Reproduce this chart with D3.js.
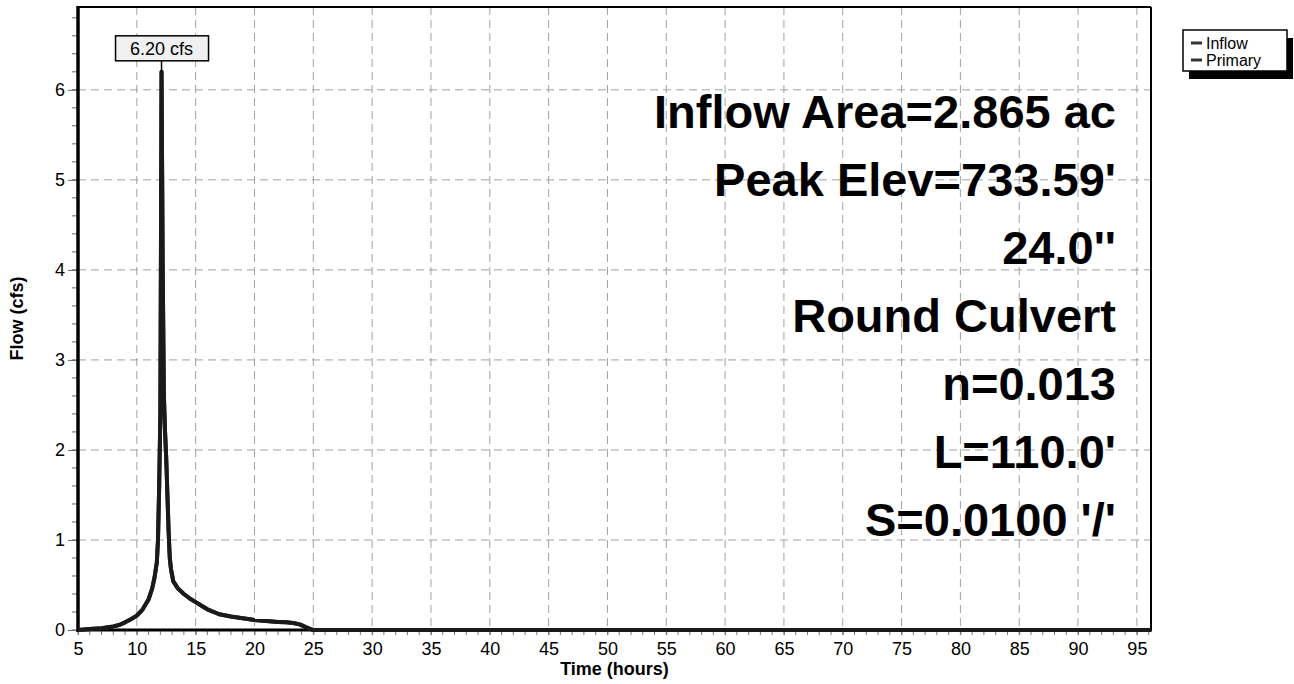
<!DOCTYPE html>
<html>
<head>
<meta charset="utf-8">
<script src="https://cdn.jsdelivr.net/npm/d3@7"></script>
<style>
  body { margin: 0; background: #fff; }
  svg { display: block; font-family: "Liberation Sans", Arial, Helvetica, sans-serif; }
</style>
</head>
<body>
<svg id="chart" width="1294" height="684"></svg>
<script>
// hydrograph values (hours, cfs)
var times = [5.0, 6.0, 7.0, 8.0, 8.5, 9.0, 9.5, 10.0, 10.5, 11.0, 11.3, 11.5, 11.7, 11.8, 11.9, 12.0, 12.05, 12.1,
  12.15, 12.2, 12.3, 12.4, 12.5, 12.6, 12.7, 12.8, 12.9, 13.1, 13.5, 14.0, 14.5, 15.0, 15.5, 16.0, 17.0, 18.0,
  19.0, 20.0, 21.0, 22.0, 22.7, 23.3, 23.9, 24.3, 24.7, 25.0, 30.0, 96.2];
var inflow = [0, 0.01, 0.02, 0.04, 0.055, 0.085, 0.12, 0.16, 0.23, 0.34, 0.46, 0.58, 0.75, 1.0, 1.6, 2.4, 4.2, 6.2,
  5.1, 4.0, 2.6, 2.2, 1.9, 1.5, 1.1, 0.8, 0.68, 0.54, 0.46, 0.40, 0.35, 0.31, 0.27, 0.23, 0.175, 0.15,
  0.13, 0.11, 0.10, 0.09, 0.085, 0.078, 0.06, 0.035, 0.012, 0, 0, 0];
var primary = [0, 0.01, 0.02, 0.04, 0.055, 0.085, 0.12, 0.16, 0.23, 0.34, 0.46, 0.58, 0.75, 1.0, 1.6, 2.4, 4.2, 6.2,
  5.1, 4.0, 2.6, 2.2, 1.9, 1.5, 1.1, 0.8, 0.68, 0.54, 0.46, 0.40, 0.35, 0.31, 0.27, 0.23, 0.175, 0.15,
  0.13, 0.11, 0.10, 0.09, 0.085, 0.078, 0.06, 0.035, 0.012, 0, 0, 0];

var seriesNames = ['Inflow', 'Primary'];
var seriesColors = ['#2a2a2a', '#1a1a1a'];
var xTicks = [5, 10, 15, 20, 25, 30, 35, 40, 45, 50, 55, 60, 65, 70, 75, 80, 85, 90, 95];
var yTicks = [0, 1, 2, 3, 4, 5, 6];
var peakLabel = '6.20 cfs';
var infoLines = ['Inflow Area=2.865 ac', "Peak Elev=733.59'", "24.0''", 'Round Culvert', 'n=0.013', "L=110.0'", "S=0.0100 '/'"];

// plot box (note: "top" is reserved on window, so use pl/pr/pt/pb)
var pl = 78, pr = 1151, pt = 7, pb = 630;
var svg = d3.select('#chart');

var x = d3.scaleLinear().domain([5, 96.2]).range([pl, pr]);
var y = d3.scaleLinear().domain([0, 6.92]).range([pb, pt]);

//=======================
// grid
//=======================
svg.append('g').selectAll('line')
  .data(xTicks)
  .enter().append('line')
    .attr('x1', function (d) { return x(d); })
    .attr('x2', function (d) { return x(d); })
    .attr('y1', pt).attr('y2', pb)
    .style('stroke', '#a0a0a0')
    .style('stroke-dasharray', '8,5');

svg.append('g').selectAll('line')
  .data(yTicks.slice(1))
  .enter().append('line')
    .attr('x1', pl).attr('x2', pr)
    .attr('y1', function (d) { return y(d); })
    .attr('y2', function (d) { return y(d); })
    .style('stroke', '#a0a0a0')
    .style('stroke-dasharray', '8,5');

// minor ticks
var yMinor = d3.range(0, 6.9, 0.2);
svg.append('g').selectAll('line')
  .data(yMinor)
  .enter().append('line')
    .attr('x1', pl - 6).attr('x2', pl)
    .attr('y1', function (d) { return y(d); })
    .attr('y2', function (d) { return y(d); })
    .style('stroke', '#666');

var xMinor = d3.range(5, 97, 1);
svg.append('g').selectAll('line')
  .data(xMinor)
  .enter().append('line')
    .attr('x1', function (d) { return x(d); })
    .attr('x2', function (d) { return x(d); })
    .attr('y1', pb).attr('y2', pb + 5)
    .style('stroke', '#777');

//=======================
// axes
//=======================
var yAxis = d3.axisLeft(y).tickValues(yTicks).tickSize(10).tickPadding(3).tickFormat(d3.format('d'));
var gy = svg.append('g').attr('transform', 'translate(' + pl + ',0)').call(yAxis);
gy.select('.domain').remove();
gy.selectAll('.tick line').style('stroke', '#666');
gy.selectAll('.tick text').style('font-size', '18px').style('fill', '#000');

var xAxis = d3.axisBottom(x).tickValues(xTicks).tickSize(5).tickPadding(7).tickFormat(d3.format('d'));
var gx = svg.append('g').attr('transform', 'translate(0,' + pb + ')').call(xAxis);
gx.select('.domain').remove();
gx.selectAll('.tick line').style('stroke', '#777');
gx.selectAll('.tick text').style('font-size', '18px').style('fill', '#000');

// frame
svg.append('line').attr('x1', pl).attr('x2', pr).attr('y1', pt).attr('y2', pt)
  .style('stroke', '#000').style('stroke-width', 2);
svg.append('line').attr('x1', pr).attr('x2', pr).attr('y1', pt).attr('y2', pb)
  .style('stroke', '#000').style('stroke-width', 2);
svg.append('line').attr('x1', pl).attr('x2', pl).attr('y1', pt - 1).attr('y2', pb + 2)
  .style('stroke', '#000').style('stroke-width', 3.5);
svg.append('line').attr('x1', pl).attr('x2', pr + 1).attr('y1', pb).attr('y2', pb)
  .style('stroke', '#000').style('stroke-width', 3);

//=======================
// curves
//=======================
var line = d3.line()
  .x(function (d) { return x(d[0]); })
  .y(function (d) { return y(d[1]); });

[inflow, primary].forEach(function (vals, i) {
  svg.append('path')
    .datum(times.map(function (t, k) { return [t, vals[k]]; }))
    .attr('d', line)
    .style('fill', 'none')
    .style('stroke', seriesColors[i])
    .style('stroke-width', 4)
    .style('stroke-linejoin', 'round');
});

// peak label
var peakIdx = inflow.indexOf(d3.max(inflow));
var px = x(times[peakIdx]), py = y(inflow[peakIdx]);
svg.append('line').attr('x1', px).attr('x2', px).attr('y1', py).attr('y2', py - 11)
  .style('stroke', '#000').style('stroke-width', 1.5);
svg.append('rect')
  .attr('x', px - 46).attr('y', py - 36).attr('width', 93).attr('height', 25)
  .style('fill', '#f0f0f0').style('stroke', '#000').style('stroke-width', 1.5);
svg.append('text')
  .attr('x', px).attr('y', py - 17)
  .attr('text-anchor', 'middle')
  .style('font-size', '18px')
  .text(peakLabel);

//=======================
// info text
//=======================
svg.append('g').selectAll('text')
  .data(infoLines)
  .enter().append('text')
    .attr('x', 1116)
    .attr('y', function (d, i) { return 128 + i * 68; })
    .attr('text-anchor', 'end')
    .style('font-size', '47px')
    .style('font-weight', 'bold')
    .text(function (d) { return d; });

// axis titles
svg.append('text')
  .attr('x', (pl + pr) / 2).attr('y', 675)
  .attr('text-anchor', 'middle')
  .style('font-size', '18px').style('font-weight', 'bold')
  .text('Time  (hours)');
svg.append('text')
  .attr('transform', 'translate(23,' + ((pt + pb) / 2) + ') rotate(-90)')
  .attr('text-anchor', 'middle')
  .style('font-size', '18px').style('font-weight', 'bold')
  .text('Flow  (cfs)');

//=======================
// legend
//=======================
var lg = svg.append('g').attr('transform', 'translate(1183,30)');
lg.append('rect').attr('x', 6).attr('y', 8).attr('width', 104).attr('height', 41).style('fill', '#000');
lg.append('rect').attr('x', 0).attr('y', 0).attr('width', 104).attr('height', 41)
  .style('fill', '#fff').style('stroke', '#000').style('stroke-width', 1.5);
seriesNames.forEach(function (name, i) {
  lg.append('line').attr('x1', 8).attr('x2', 19).attr('y1', 13 + i * 17).attr('y2', 13 + i * 17)
    .style('stroke', '#333').style('stroke-width', 3);
  lg.append('text').attr('x', 23).attr('y', 19 + i * 17)
    .style('font-size', '16px')
    .text(name);
});
</script>
</body>
</html>
